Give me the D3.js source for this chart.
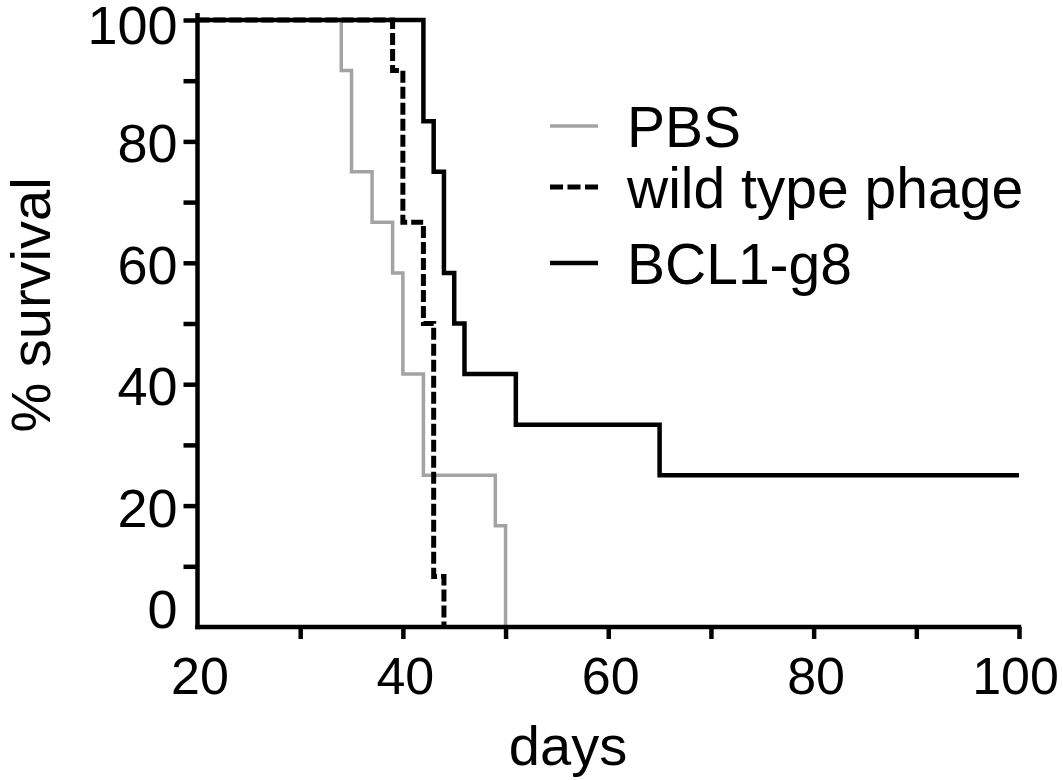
<!DOCTYPE html>
<html>
<head>
<meta charset="utf-8">
<script src="https://cdn.jsdelivr.net/npm/d3@7"></script>
<style>
  html, body { margin: 0; padding: 0; background: #fff; }
  svg { display: block; }
  text { font-family: "Liberation Sans", Arial, sans-serif; fill: #000; }
</style>
</head>
<body>
<svg id="chart" width="1063" height="780"></svg>
<script>
// ---- data ----
const pbsDays = [20, 34, 35, 37, 39, 40, 42, 49, 50];
const pbsSurvival = [100, 91.67, 75, 66.67, 58.33, 41.67, 25, 16.67, 0];

const wtDays = [20, 39, 40, 42, 43, 44];
const wtSurvival = [100, 91.67, 66.67, 50, 8.33, 0];

const bclDays = [20, 42, 43, 44, 45, 46, 51, 65, 100];
const bclSurvival = [100, 83.33, 75, 58.33, 50, 41.67, 33.33, 25, 25];

const xTicks = [20, 30, 40, 50, 60, 70, 80, 90, 100];
const xTickLabels = [20, 40, 60, 80, 100];
const yTicks = [0, 10, 20, 30, 40, 50, 60, 70, 80, 90, 100];
const yTickLabels = [0, 20, 40, 60, 80, 100];

const seriesNames = ["PBS", "wild type phage", "BCL1-g8"];

// ---- layout ----
const svg = d3.select("#chart");
const x = d3.scaleLinear().domain([20, 100]).range([197.5, 1019]);
const y = d3.scaleLinear().domain([0, 100]).range([627, 20]);

const gray = "#a3a3a3";
const series = [
  { name: seriesNames[0], days: pbsDays, surv: pbsSurvival, color: gray, width: 3.5, dash: null, legendDash: null },
  { name: seriesNames[1], days: wtDays, surv: wtSurvival, color: "#000", width: 5, dash: "12,4", legendDash: "13,4.5" },
  { name: seriesNames[2], days: bclDays, surv: bclSurvival, color: "#000", width: 4.5, dash: null, legendDash: null }
];

const line = d3.line()
  .x(d => x(d[0]))
  .y(d => y(d[1]))
  .curve(d3.curveStepAfter);

// draw curves: PBS, then BCL1-g8, then dashed on top
[series[0], series[2], series[1]].forEach(s => {
  const pts = s.days.map((d, i) => [d, s.surv[i]]);
  svg.append("path")
    .attr("d", line(pts))
    .attr("fill", "none")
    .attr("stroke", s.color)
    .attr("stroke-width", s.width)
    .attr("stroke-linejoin", "miter")
    .attr("stroke-linecap", "butt")
    .attr("stroke-dasharray", s.dash);
});

// ---- axes ----
const axisW = 4.5;

// y axis
const yAxis = d3.axisLeft(y)
  .tickValues(yTicks)
  .tickSize(14)
  .tickFormat(d => yTickLabels.includes(d) ? d : "");
const gy = svg.append("g").attr("transform", `translate(${x(20)},0)`).call(yAxis);
gy.select(".domain").remove();
gy.selectAll(".tick line").attr("stroke", "#000").attr("stroke-width", axisW)
  .filter(d => d === 0).remove();
gy.selectAll(".tick text")
  .attr("font-size", 54)
  .attr("font-family", '"Liberation Sans", Arial, sans-serif')
  .attr("x", -20)
  .attr("dy", "0.38em")
  .attr("y", d => d === 0 ? -20 : (d === 100 ? 3 : 0));
svg.append("line")
  .attr("x1", x(20)).attr("x2", x(20))
  .attr("y1", y(0) + axisW / 2).attr("y2", 13)
  .attr("stroke", "#000").attr("stroke-width", axisW);

// x axis
const xAxis = d3.axisBottom(x)
  .tickValues(xTicks)
  .tickSize(12)
  .tickFormat(d => xTickLabels.includes(d) ? d : "");
const gx = svg.append("g").attr("transform", `translate(0,${y(0)})`).call(xAxis);
gx.select(".domain").remove();
gx.selectAll(".tick line").attr("stroke", "#000").attr("stroke-width", axisW)
  .filter(d => d === 20).remove();
gx.selectAll(".tick text")
  .attr("font-size", 52)
  .attr("font-family", '"Liberation Sans", Arial, sans-serif')
  .attr("y", 30)
  .attr("dx", d => d === 100 ? -4 : 2)
  .attr("dy", "0.71em");
svg.append("line")
  .attr("x1", x(20) - axisW / 2).attr("x2", x(100) + axisW / 2)
  .attr("y1", y(0)).attr("y2", y(0))
  .attr("stroke", "#000").attr("stroke-width", axisW);

// axis titles
svg.append("text")
  .attr("x", 568).attr("y", 765)
  .attr("text-anchor", "middle")
  .attr("font-size", 56)
  .text("days");
svg.append("text")
  .attr("transform", "translate(50,305) rotate(-90)")
  .attr("text-anchor", "middle")
  .attr("font-size", 56)
  .text("% survival");

// ---- legend ----
const legendY = [126, 187, 263];
series.forEach((s, i) => {
  const ly = legendY[i];
  svg.append("line")
    .attr("x1", 550).attr("x2", 598)
    .attr("y1", ly).attr("y2", ly)
    .attr("stroke", s.color)
    .attr("stroke-width", s.width)
    .attr("stroke-dasharray", s.legendDash);
  svg.append("text")
    .attr("x", 627).attr("y", ly)
    .attr("dy", "0.36em")
    .attr("font-size", 57)
    .text(s.name);
});
</script>
</body>
</html>
